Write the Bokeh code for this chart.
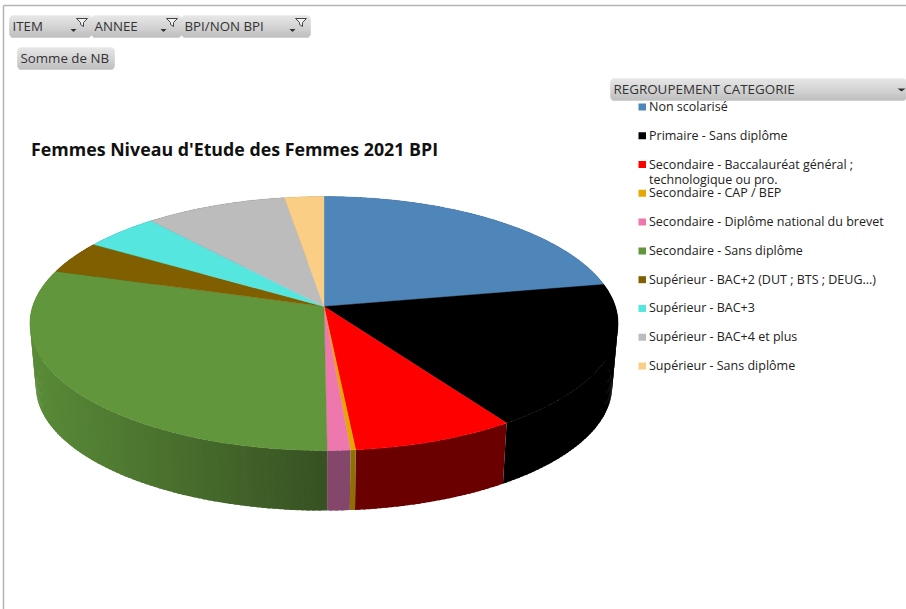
import math
from bokeh.plotting import figure
from bokeh.embed import file_html
from bokeh.resources import INLINE
from bokeh.core.properties import value

categories = ["Non scolarisé", "Primaire - Sans diplôme",
              "Secondaire - Baccalauréat général ;\ntechnologique ou pro.",
              "Secondaire - CAP / BEP", "Secondaire - Diplôme national du brevet",
              "Secondaire - Sans diplôme", "Supérieur - BAC+2 (DUT ; BTS ; DEUG...)",
              "Supérieur - BAC+3", "Supérieur - BAC+4 et plus", "Supérieur - Sans diplôme"]
values = [22.1, 18.5, 7.9, 0.25, 1.1, 29.9, 4.2, 4.7, 8.9, 2.45]
colors = ["#4f86b9", "#000000", "#ff0000", "#e6a800", "#ee78ae",
          "#61963c", "#7f5f00", "#55e6e0", "#bcbcbc", "#fbce85"]
wall_left = ["#3a5a7c", "#000000", "#6b0000", "#8f6f00", "#84466a",
             "#598a37", "#4c3900", "#33807c", "#707070", "#96804f"]
wall_right = ["#3a5a7c", "#000000", "#6b0000", "#8f6f00", "#84466a",
              "#365022", "#4c3900", "#33807c", "#707070", "#96804f"]
title = "Femmes Niveau d'Etude des Femmes 2021 BPI"
filters = ["ITEM", "ANNEE", "BPI/NON BPI"]
measure = "Somme de NB"
legend_title = "REGROUPEMENT CATEGORIE"

W, H = 906, 609
FONT = "Open Sans"
p = figure(width=W, height=H, x_range=(0, W), y_range=(H, 0), toolbar_location=None,
           output_backend="svg", min_border=0, outline_line_color=None)
p.axis.visible = False
p.grid.visible = False
p.styles = {"position": "absolute", "left": "0px", "top": "0px"}

# perspective projection of the pie disc
CX, CY, A, B, K = 323.5, 306.0, 124.7, 291.4, 0.134
DEPTH, SHRINK = 63.0, 0.98


def rim(deg, lower=False):
    a = math.radians(deg)
    u, v = math.sin(a), math.cos(a)
    d = 1 + K * v
    dx, dy = B * u / d, -A * v / d
    if lower:
        return CX + SHRINK * dx, CY + DEPTH + SHRINK * dy
    return CX + dx, CY + dy


def mix(c1, c2, t):
    t = max(0.0, min(1.0, t))
    a = [int(c1[i:i + 2], 16) for i in (1, 3, 5)]
    b = [int(c2[i:i + 2], 16) for i in (1, 3, 5)]
    return "#%02x%02x%02x" % tuple(round(x + (y - x) * t) for x, y in zip(a, b))


total = sum(values)
bounds = [0.0]
for val in values:
    bounds.append(bounds[-1] + 360.0 * val / total)

# side wall: overlapping bands, each covering the seam of the one before
wx, wy, wc = [], [], []
for i in range(len(values)):
    start, end = bounds[i], bounds[i + 1]
    n = max(1, int(math.ceil((end - start) / 1.0)))
    for j in range(n):
        a0 = start + (end - start) * j / n
        a1 = min(end, start + (end - start) * (j + 1) / n + 0.6)
        x0, y0 = rim(a0)
        x1, y1 = rim(a1)
        x2, y2 = rim(a1, True)
        x3, y3 = rim(a0, True)
        wx.append([x0, x1, x2, x3])
        wy.append([y0, y1, y2, y3])
        wc.append(mix(wall_left[i], wall_right[i], ((x0 + x1) / 2 - 36) / (330 - 36)))
p.patches(wx, wy, fill_color=wc, line_color=None)

# top face
tx, ty = [], []
for i in range(len(values)):
    start, end = bounds[i], bounds[i + 1]
    n = max(2, int(math.ceil((end - start) / 1.0)))
    pts = [rim(start + (end - start) * j / n) for j in range(n + 1)]
    tx.append([CX] + [q[0] for q in pts])
    ty.append([CY] + [q[1] for q in pts])
p.patches(tx, ty, fill_color=colors, line_color=colors, line_width=0.4)

# title
p.text([30.5], [148], text=[title], text_font=value(FONT), text_font_style="bold",
       text_font_size="17.8px", text_color="#111111", text_baseline="middle")


# chrome
def button(x0, x1, y0, y1, top="#e4e4e4", bottom="#b8b8b8", radius=4):
    rows = y1 - y0
    lefts, rights, tops, bottoms, cols = [], [], [], [], []
    for r in range(rows):
        dist = min(r, rows - 1 - r)
        inset = 0
        if dist < radius:
            inset = radius - math.sqrt(max(0, radius ** 2 - (radius - dist - 0.5) ** 2))
        lefts.append(x0 + inset)
        rights.append(x1 - inset)
        tops.append(y0 + r)
        bottoms.append(y0 + r + 1)
        cols.append(mix(top, bottom, r / max(1, rows - 1)))
    p.quad(left=lefts, right=rights, top=tops, bottom=bottoms, fill_color=cols, line_color=cols,
           line_width=0.3)


def arrow(x, y, w=6):
    p.patch([x, x + w, x + w / 2], [y, y, y + 3], fill_color="#333333", line_color=None)


def funnel(x, y):
    p.patch([x, x + 11, x + 7, x + 7, x + 4, x + 4], [y, y, y + 4, y + 8, y + 6, y + 4],
            fill_color="#f0f0f0", line_color="#444444", line_width=1)


p.line([3, W], [5, 5], line_color="#b4b4b4", line_width=1.5)
p.line([3, 3], [5, H], line_color="#b4b4b4", line_width=1.5)

button_edges = [9, 91, 181, 310]
for i, name in enumerate(filters):
    x0, x1 = button_edges[i], button_edges[i + 1]
    button(x0, x1, 15, 37)
    p.text([x0 + 3], [25.5], text=[name], text_font=value(FONT), text_font_size="13.3px",
           text_color="#333333", text_baseline="middle")
    arrow(x1 - 21, 28.5)
    funnel(x1 - 15, 18)

button(17, 114, 47, 69)
p.text([20], [57], text=[measure], text_font=value(FONT), text_font_size="13.3px",
       text_color="#333333", text_baseline="middle")

button(610, W, 78, 100)
p.text([613], [88], text=[legend_title], text_font=value(FONT), text_font_size="13.4px",
       text_color="#333333", text_baseline="middle")
arrow(897, 88, 8)

# legend
row_y = 106.5
for name, col in zip(categories, colors):
    p.quad(left=[638], right=[645.5], top=[row_y - 3.5], bottom=[row_y + 3.5],
           fill_color=col, line_color=None)
    parts = name.split("\n")
    for k, part in enumerate(parts):
        p.text([648.5], [row_y - 0.5 + k * 15], text=[part], text_font=value(FONT),
               text_font_size="12.5px", text_color="#222222", text_baseline="middle")
    row_y += 28.78

open("out.html", "w").write(file_html(p, INLINE))
